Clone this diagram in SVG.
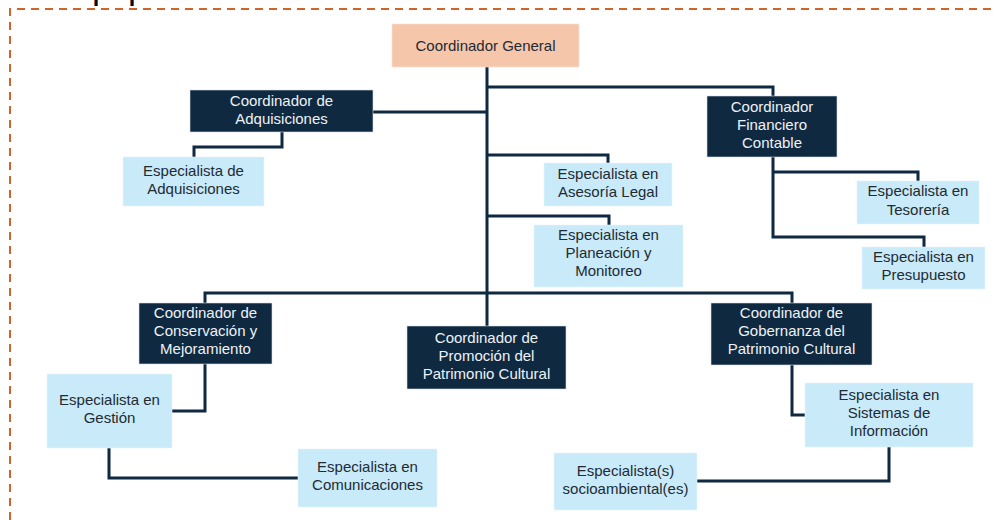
<svg xmlns="http://www.w3.org/2000/svg" width="996" height="520" viewBox="0 0 996 520">
<style>
.dark rect{fill:#0f2941;stroke:#d8dee6;stroke-width:0.6}
.light rect{fill:#c9eaf9;stroke:#e6f5fc;stroke-width:0.6}
.gen rect{fill:#f6c6ab;stroke:#fbe1d3;stroke-width:0.6}
text{font-family:"Liberation Sans",Arial,sans-serif;font-size:15px;text-anchor:middle}
.dark text{fill:#eef2f6}
.light text,.gen text{fill:#222a33}
.conn path{fill:none;stroke:#0f2941;stroke-width:3}
</style>
<rect width="996" height="520" fill="#ffffff"/>
<text x="56" y="-2" style="font-size:36px;text-anchor:start;fill:#000">Equipo</text>
<path d="M10,520 V9 H996" fill="none" stroke="#d1642b" stroke-width="2" stroke-dasharray="8 6"/>
<g class="conn" id="connectors">
<path d="M487,67 V293"/>
<path d="M487,87 H773 V96"/>
<path d="M373,112 H487"/>
<path d="M282,132 V147 H194 V157"/>
<path d="M487,155 H608 V163"/>
<path d="M487,216 H609 V225"/>
<path d="M773,157 V237 H924 V247"/>
<path d="M773,172 H918 V181"/>
<path d="M205,303 V293 H792 V303"/>
<path d="M487,293 V326"/>
<path d="M205,364 V411 H172"/>
<path d="M109,448 V478 H298"/>
<path d="M792,365 V415 H805"/>
<path d="M889,447 V481 H697"/>
</g>
<g id="coord-general" class="gen"><rect x="392" y="24" width="187" height="43"/><text x="485.5" y="51">Coordinador General</text></g>
<g id="coord-adquisiciones" class="dark"><rect x="190" y="90" width="183" height="42"/><text x="281.5" y="106">Coordinador de</text><text x="281.5" y="124">Adquisiciones</text></g>
<g id="coord-financiero" class="dark"><rect x="707" y="96" width="130" height="61"/><text x="772" y="112">Coordinador</text><text x="772" y="130">Financiero</text><text x="772" y="148">Contable</text></g>
<g id="esp-adquisiciones" class="light"><rect x="123" y="157" width="141" height="49"/><text x="193.5" y="176">Especialista de</text><text x="193.5" y="194">Adquisiciones</text></g>
<g id="esp-legal" class="light"><rect x="544" y="163" width="128" height="43"/><text x="608" y="179">Especialista en</text><text x="608" y="197">Asesoría Legal</text></g>
<g id="esp-planeacion" class="light"><rect x="534" y="225" width="149" height="62"/><text x="608.5" y="240">Especialista en</text><text x="608.5" y="258">Planeación y</text><text x="608.5" y="276">Monitoreo</text></g>
<g id="esp-tesoreria" class="light"><rect x="857" y="181" width="122" height="43"/><text x="918" y="196">Especialista en</text><text x="918" y="215">Tesorería</text></g>
<g id="esp-presupuesto" class="light"><rect x="862" y="247" width="123" height="42"/><text x="923.5" y="262">Especialista en</text><text x="923.5" y="280">Presupuesto</text></g>
<g id="coord-conservacion" class="dark"><rect x="139" y="303" width="133" height="61"/><text x="205.5" y="318">Coordinador de</text><text x="205.5" y="336">Conservación y</text><text x="205.5" y="354">Mejoramiento</text></g>
<g id="coord-promocion" class="dark"><rect x="407" y="326" width="159" height="63"/><text x="486.5" y="343">Coordinador de</text><text x="486.5" y="361">Promoción del</text><text x="486.5" y="379">Patrimonio Cultural</text></g>
<g id="coord-gobernanza" class="dark"><rect x="711" y="303" width="161" height="62"/><text x="791.5" y="318">Coordinador de</text><text x="791.5" y="336">Gobernanza del</text><text x="791.5" y="354">Patrimonio Cultural</text></g>
<g id="esp-gestion" class="light"><rect x="47" y="374" width="125" height="74"/><text x="109.5" y="405">Especialista en</text><text x="109.5" y="423">Gestión</text></g>
<g id="esp-comunicaciones" class="light"><rect x="298" y="449" width="139" height="58"/><text x="367.5" y="472">Especialista en</text><text x="367.5" y="490">Comunicaciones</text></g>
<g id="esp-sistemas" class="light"><rect x="805" y="383" width="168" height="64"/><text x="889" y="400">Especialista en</text><text x="889" y="418">Sistemas de</text><text x="889" y="436">Información</text></g>
<g id="esp-socioambiental" class="light"><rect x="554" y="453" width="143" height="57"/><text x="625.5" y="476">Especialista(s)</text><text x="625.5" y="494">socioambiental(es)</text></g>
</svg>
